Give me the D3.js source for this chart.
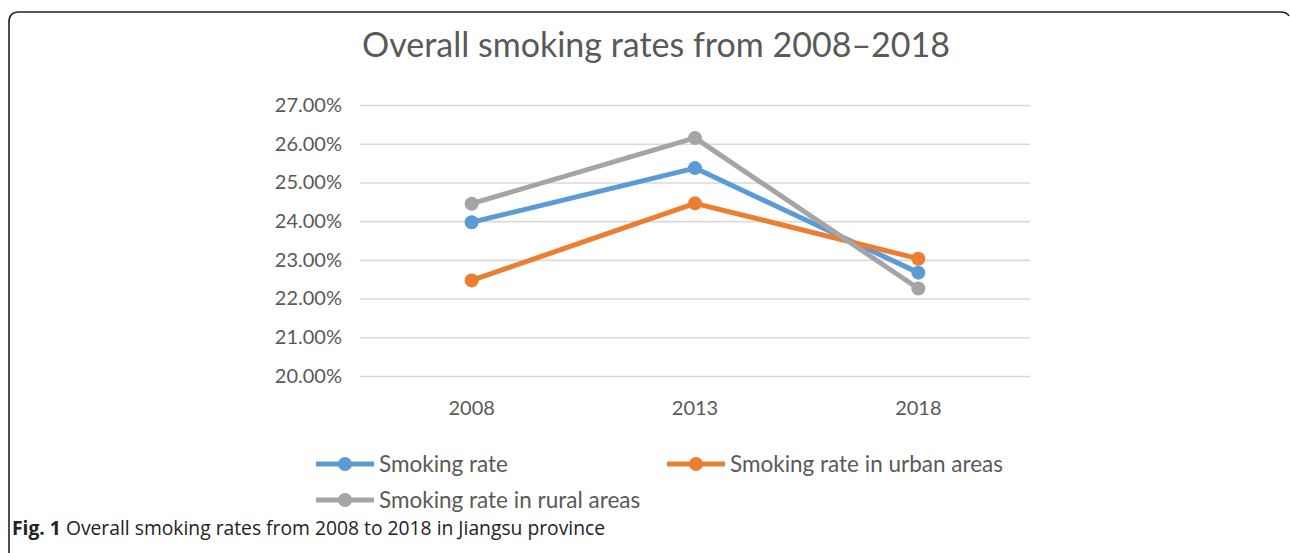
<!DOCTYPE html>
<html><head><meta charset="utf-8">
<script src="https://cdn.jsdelivr.net/npm/d3@7"></script>
<style>
html,body{margin:0;padding:0;background:#fff;}
svg{display:block;}
</style></head>
<body>
<svg id="chart" width="1290" height="553"></svg>
<script>
const categories = ["2008", "2013", "2018"];
const seriesNames = ["Smoking rate", "Smoking rate in urban areas", "Smoking rate in rural areas"];
const smokingRate = [23.97, 25.37, 22.67];
const urbanRate = [22.47, 24.46, 23.03];
const ruralRate = [24.45, 26.15, 22.26];
const yTicks = [20, 21, 22, 23, 24, 25, 26, 27];
const titleText = "Overall smoking rates from 2008\u20132018";
const captionBold = "Fig. 1";
const captionText = " Overall smoking rates from 2008 to 2018 in Jiangsu province";

const colors = ["#5B9BD5", "#ED7D31", "#A5A5A5"];
const seriesValues = [smokingRate, urbanRate, ruralRate];
const series = seriesNames.map((n, i) => ({name: n, values: seriesValues[i], color: colors[i]}));

const svg = d3.select("#chart");
const font = "Lato, 'Open Sans', sans-serif";
const textColor = "#595959";

// frame
svg.append("path")
  .attr("d", "M9,600 L9,22 Q9,12 19,12 L1280,12 Q1287,12 1289,16")
  .attr("fill", "none").attr("stroke", "#222").attr("stroke-width", 1.6);

// title
svg.append("text").attr("x", 656).attr("y", 57).attr("text-anchor", "middle")
  .attr("font-family", font).attr("font-size", 34).attr("fill", textColor).text(titleText);

const x = d3.scaleBand().domain(categories).range([360, 1030]);
const y = d3.scaleLinear().domain([20, 27]).range([376, 105]);

// gridlines
const yAxis = d3.axisLeft(y).tickValues(yTicks).tickFormat(d => d3.format(".2f")(d) + "%")
  .tickSize(-(1030 - 360)).tickPadding(18);
const gy = svg.append("g").attr("transform", "translate(360,0)").call(yAxis);
gy.select(".domain").remove();
gy.selectAll(".tick line").attr("stroke", "#D9D9D9").attr("stroke-width", 1.6);
gy.selectAll(".tick text").attr("font-family", font).attr("font-size", 20).attr("fill", textColor);

const xAxis = d3.axisBottom(x).tickSize(0).tickPadding(25);
const gx = svg.append("g").attr("transform", "translate(0,376)").call(xAxis);
gx.select(".domain").remove();
gx.selectAll(".tick text").attr("font-family", font).attr("font-size", 20).attr("fill", textColor);

const cx = c => x(c) + x.bandwidth() / 2;
const line = d3.line().x((d, i) => cx(categories[i])).y(d => y(d));

series.forEach(s => {
  const g = svg.append("g");
  g.append("path").attr("d", line(s.values)).attr("fill", "none")
    .attr("stroke", s.color).attr("stroke-width", 5).attr("stroke-linejoin", "round");
  g.selectAll("circle").data(s.values).enter().append("circle")
    .attr("cx", (d, i) => cx(categories[i])).attr("cy", d => y(d)).attr("r", 7)
    .attr("fill", s.color);
});

// legend
const legendPos = [[316, 464], [667, 464], [316, 500]];
series.forEach((s, i) => {
  const [lx, ly] = legendPos[i];
  const g = svg.append("g").attr("transform", `translate(${lx},${ly})`);
  g.append("line").attr("x1", 0).attr("x2", 58).attr("y1", 0).attr("y2", 0)
    .attr("stroke", s.color).attr("stroke-width", 5);
  g.append("circle").attr("cx", 29).attr("cy", 0).attr("r", 7).attr("fill", s.color);
  g.append("text").attr("x", 63).attr("y", 8).attr("font-family", font).attr("font-size", 22.5)
    .attr("fill", textColor).text(s.name);
});

// caption
const cap = svg.append("text").attr("x", 12).attr("y", 535)
  .attr("font-family", "'Open Sans', sans-serif").attr("font-size", 19.3).attr("fill", "#222");
cap.append("tspan").attr("font-weight", "bold").text(captionBold);
cap.append("tspan").text(captionText);
</script>
</body></html>
